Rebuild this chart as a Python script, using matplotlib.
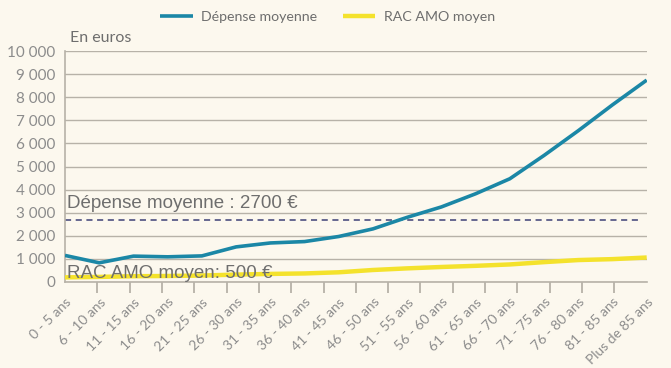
import matplotlib

matplotlib.use("Agg")
import numpy as np
from matplotlib import pyplot as plt

# categories and values
age_groups = [
    "0 - 5 ans", "6 - 10 ans", "11 - 15 ans", "16 - 20 ans", "21 - 25 ans",
    "26 - 30 ans", "31 - 35 ans", "36 - 40 ans", "41 - 45 ans", "46 - 50 ans",
    "51 - 55 ans", "56 - 60 ans", "61 - 65 ans", "66 - 70 ans", "71 - 75 ans",
    "76 - 80 ans", "81 - 85 ans", "Plus de 85 ans",
]
depense_moyenne = [1150, 830, 1120, 1090, 1130, 1520, 1690, 1750, 1970, 2300,
                   2800, 3250, 3820, 4470, 5480, 6550, 7670, 8740]
rac_amo_moyen = [200, 220, 250, 260, 280, 320, 350, 370, 420, 520,
                 590, 650, 700, 760, 860, 950, 990, 1060]
depense_mean = 2700
rac_mean = 500
y_ticks = list(range(0, 10001, 1000))
y_labels = [f"{v:,}".replace(",", " ") for v in y_ticks]

BG = "#fcf8ee"
BLUE = "#1b87a6"
YELLOW = "#f4e22c"
GRID = "#b7b2a8"
TICK_TXT = "#8c8c8c"
NOTE_TXT = "#6e6e6e"

fig = plt.figure(figsize=(6.71, 3.68), dpi=100, facecolor=BG)
ax = fig.add_axes([0.0969, 0.2337, 0.8669, 0.6277], facecolor=BG)

x = np.arange(len(age_groups))
ax.plot(x, rac_amo_moyen, color=YELLOW, lw=3.2, solid_capstyle="butt", label="RAC AMO moyen", zorder=3)
ax.plot(x, depense_moyenne, color=BLUE, lw=2.6, solid_capstyle="butt", label="Dépense moyenne", zorder=4)
ax.hlines(depense_mean, 0, len(age_groups) - 1.18, colors="#3d4177", linestyles=(0, (4, 3)), lw=1.1, zorder=2)

ax.set_xlim(0, len(age_groups) - 1)
ax.set_ylim(0, 10000)
ax.set_yticks(y_ticks)
ax.set_yticklabels(y_labels, color=TICK_TXT, fontsize=11, family="Lato")
ax.tick_params(axis="y", length=0, pad=7)
ax.grid(axis="y", color=GRID, lw=1.0)
ax.set_axisbelow(True)

ax.set_xticks(x)
ax.set_xticklabels(age_groups, rotation=45, ha="right", rotation_mode="anchor",
                   color=TICK_TXT, fontsize=10, family="Lato")
ax.tick_params(axis="x", length=0, pad=10)
ax.set_xticks(np.linspace(0, len(age_groups) - 1, len(age_groups) + 1), minor=True)
ax.tick_params(axis="x", which="minor", length=8, color=GRID, width=1.3, direction="out")

for side in ("top", "right"):
    ax.spines[side].set_visible(False)
for side in ("left", "bottom"):
    ax.spines[side].set_color(GRID)
    ax.spines[side].set_linewidth(1.2)

ax.text(0.15, 10250, "En euros", color=NOTE_TXT, fontsize=11.5, family="Lato", va="bottom")
ax.text(0.05, depense_mean + 320, f"Dépense moyenne : {depense_mean} €", color=NOTE_TXT,
        fontsize=13.5, family="Liberation Sans", va="bottom", zorder=5)
ax.text(0.05, rac_mean - 520, f"RAC AMO moyen: {rac_mean} €", color=NOTE_TXT,
        fontsize=13.5, family="Liberation Sans", va="bottom", zorder=5)

handles, labels = ax.get_legend_handles_labels()
leg = fig.legend(handles[::-1], labels[::-1], loc="center", bbox_to_anchor=(0.488, 0.953), ncol=2,
                 frameon=False, handlelength=2.3, columnspacing=1.8, handletextpad=0.6,
                 prop={"family": "Lato", "size": 10.2})
for t in leg.get_texts():
    t.set_color(NOTE_TXT)

fig.savefig("out.png", dpi=100, facecolor=BG)
